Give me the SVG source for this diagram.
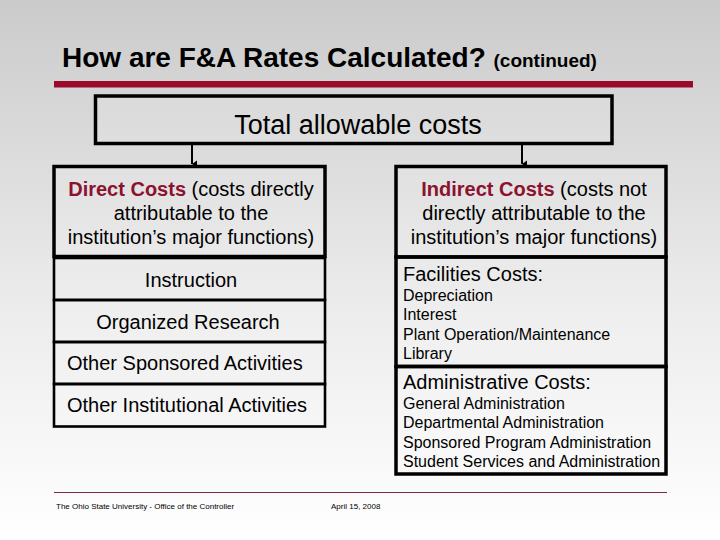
<svg xmlns="http://www.w3.org/2000/svg" width="720" height="540" viewBox="0 0 720 540">
<defs>
<linearGradient id="bg" x1="0" y1="0" x2="0" y2="1">
<stop offset="0" stop-color="#cbcbcb"/>
<stop offset="0.55" stop-color="#ebebeb"/>
<stop offset="1" stop-color="#ffffff"/>
</linearGradient>
<marker id="arr" markerWidth="8" markerHeight="8" refX="4" refY="7" orient="auto" markerUnits="userSpaceOnUse">
<path d="M0.5,2 L7.5,2 L4,7 Z" fill="#000"/>
</marker>
<style>
text{font-family:"Liberation Sans",Arial,sans-serif;fill:#000}
.box{fill:#ffffff;fill-opacity:0.12;stroke:#000;stroke-width:3.5}
.thin{fill:#ffffff;fill-opacity:0.12;stroke:#000;stroke-width:2.6}
.t20{font-size:20px}
.t16{font-size:16px}
.red{fill:#8c1230;font-weight:bold}
.c{text-anchor:middle}
</style>
</defs>
<rect x="0" y="0" width="720" height="540" fill="url(#bg)"/>
<g id="title">
<text x="62" y="67" font-size="28" font-weight="bold">How are F&amp;A Rates Calculated? <tspan font-size="19">(continued)</tspan></text>
<rect x="54" y="81" width="639" height="6.5" fill="#9b0a2a"/>
</g>
<g id="total">
<rect class="box" x="95.5" y="96" width="516.5" height="47.5"/>
<text x="358" y="134" font-size="27" class="c">Total allowable costs</text>
</g>
<g id="connectors">
<line x1="192" y1="145" x2="192" y2="164" stroke="#000" stroke-width="2" marker-end="url(#arr)"/>
<line x1="522" y1="145" x2="522" y2="164" stroke="#000" stroke-width="2" marker-end="url(#arr)"/>
</g>
<g id="direct">
<rect class="box" x="54" y="166.5" width="271" height="90"/>
<text class="t20 c" x="191" y="196"><tspan class="red">Direct Costs</tspan> (costs directly</text>
<text class="t20 c" x="191" y="220">attributable to the</text>
<text class="t20 c" x="191" y="244">institution’s major functions)</text>
</g>
<g id="instruction">
<rect class="thin" x="54" y="258" width="271" height="42"/>
<text class="t20 c" x="191" y="287">Instruction</text>
</g>
<g id="research">
<rect class="thin" x="54" y="300" width="271" height="42"/>
<text class="t20 c" x="188" y="329">Organized Research</text>
</g>
<g id="sponsored">
<rect class="thin" x="54" y="342" width="271" height="42"/>
<text class="t20" x="67" y="370">Other Sponsored Activities</text>
</g>
<g id="institutional">
<rect class="thin" x="54" y="384" width="271" height="42.5"/>
<text class="t20" x="67" y="412">Other Institutional Activities</text>
</g>
<g id="indirect">
<rect class="box" x="396" y="166.5" width="270" height="90.5"/>
<text class="t20 c" x="534" y="196"><tspan class="red">Indirect Costs</tspan> (costs not</text>
<text class="t20 c" x="534" y="220">directly attributable to the</text>
<text class="t20 c" x="534" y="244">institution’s major functions)</text>
</g>
<g id="facilities">
<rect class="box" x="396" y="257" width="270" height="109.5"/>
<text class="t20" x="403" y="281">Facilities Costs:</text>
<text class="t16" x="403" y="301">Depreciation</text>
<text class="t16" x="403" y="320">Interest</text>
<text class="t16" x="403" y="340">Plant Operation/Maintenance</text>
<text class="t16" x="403" y="359">Library</text>
</g>
<g id="administrative">
<rect class="box" x="396" y="366.5" width="270" height="107.5"/>
<text class="t20" x="403" y="389">Administrative Costs:</text>
<text class="t16" x="403" y="409">General Administration</text>
<text class="t16" x="403" y="428">Departmental Administration</text>
<text class="t16" x="403" y="448">Sponsored Program Administration</text>
<text class="t16" x="403" y="467">Student Services and Administration</text>
</g>
<g id="footer">
<line x1="54" y1="492.5" x2="667" y2="492.5" stroke="#7b2b3a" stroke-width="1"/>
<text x="56" y="509" font-size="8">The Ohio State University - Office of the Controller</text>
<text x="331" y="509" font-size="8">April 15, 2008</text>
</g>
</svg>
